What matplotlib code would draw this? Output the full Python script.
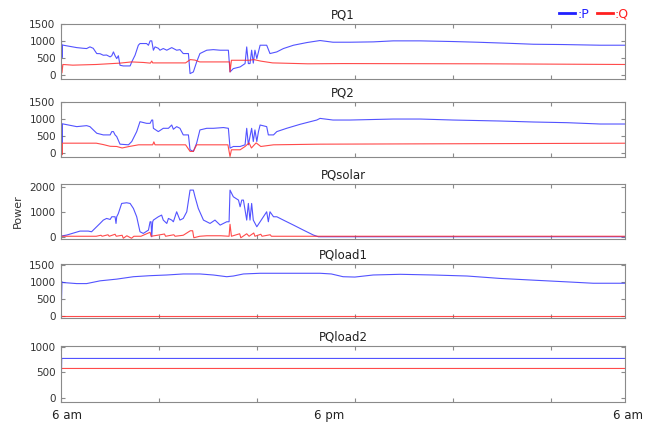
import numpy as np
import matplotlib
matplotlib.use('Agg')
import matplotlib.pyplot as plt
import matplotlib.transforms as mtransforms
from matplotlib.lines import Line2D

# time axis in hours after 6 am
pq1_p_hours = [0.0, 0.02, 0.04, 0.06, 0.1, 0.67, 0.95, 1.09, 1.23, 1.37, 1.52, 1.66, 1.8, 1.94, 2.09, 2.16,
               2.23, 2.3, 2.37, 2.44, 2.51, 2.65, 2.94, 3.01, 3.15, 3.29, 3.36, 3.64, 3.72, 3.79, 3.86, 3.93,
               4.0, 4.14, 4.21, 4.35, 4.5, 4.71, 4.92, 5.06, 5.2, 5.42, 5.49, 5.63, 5.77, 5.91, 6.2, 6.48,
               6.77, 7.05, 7.12, 7.19, 7.33, 7.62, 7.83, 7.9, 7.97, 8.04, 8.11, 8.18, 8.25, 8.33, 8.47, 8.75,
               8.89, 9.18, 9.46, 9.89, 10.46, 11.02, 11.57, 12.3, 13.28, 14.13, 15.28, 16.68, 17.7, 18.98,
               20.09, 21.36, 22.94, 24.0]
pq1_p = [0, 1000, 500, 880, 871, 800, 780, 772, 822, 780, 624, 620, 574, 580, 525, 560,
         673, 560, 475, 560, 277, 257, 257, 376, 574, 871, 921, 921, 870, 1000, 1000, 723,
         822, 780, 723, 773, 723, 800, 723, 740, 624, 624, 30, 79, 376, 624, 723, 740,
         723, 723, 723, 79, 178, 228, 327, 820, 327, 327, 723, 340, 723, 475, 871, 871,
         624, 673, 772, 871, 950, 1010, 960, 960, 970, 1000, 1000, 980, 960, 930,
         900, 891, 871, 871]
pq1_q_hours = [0.0, 0.02, 0.04, 0.08, 0.5, 1.5, 2.5, 3.0, 3.5, 3.8, 3.86, 3.9, 4.2, 5.3, 5.5, 5.7, 5.9,
               7.17, 7.19, 7.25, 8.0, 8.2, 8.5, 9.0, 10.5, 12.0, 18.0, 24.0]
pq1_q = [0, 300, 50, 300, 280, 300, 340, 376, 360, 340, 400, 347, 347, 347, 445, 430, 376,
         376, 79, 425, 425, 445, 400, 347, 320, 327, 320, 300]

pq2_p_hours = [0.0, 0.02, 0.04, 0.06, 0.1, 0.67, 1.09, 1.23, 1.52, 1.8, 2.09, 2.16, 2.23, 2.3, 2.37, 2.51,
               2.87, 3.01, 3.22, 3.36, 3.64, 3.79, 3.86, 3.9, 3.93, 4.14, 4.35, 4.57, 4.71, 4.78, 4.92,
               5.06, 5.2, 5.42, 5.49, 5.63, 5.77, 5.91, 6.2, 6.48, 6.91, 7.12, 7.19, 7.33, 7.62, 7.83,
               7.9, 7.97, 8.11, 8.18, 8.25, 8.33, 8.4, 8.47, 8.75, 8.82, 9.04, 9.18, 9.6, 10.17, 10.88,
               11.02, 11.57, 12.3, 14.13, 15.28, 16.68, 18.68, 20.09, 21.53, 22.94, 24.0]
pq2_p = [0, 900, 300, 860, 854, 777, 806, 777, 583, 534, 534, 631, 631, 534, 485, 262,
         243, 340, 631, 922, 874, 874, 971, 971, 728, 631, 728, 728, 825, 700, 777,
         728, 534, 534, 97, 49, 291, 680, 728, 728, 750, 728, 146, 194, 194, 243,
         728, 243, 728, 340, 680, 340, 631, 825, 777, 534, 534, 631, 728, 845, 971,
         1019, 971, 971, 1000, 1000, 971, 942, 913, 893, 854, 854]
pq2_q_hours = [0.0, 0.02, 0.04, 0.06, 1.5, 1.8, 2.09, 2.37, 2.6, 2.9, 3.3, 3.9, 3.95, 4.0, 5.3, 5.49,
               5.63, 5.77, 7.1, 7.19, 7.25, 7.62, 7.83, 8.0, 8.1, 8.3, 8.5, 9.04, 11.0, 24.0]
pq2_q = [0, 291, -50, 291, 291, 250, 200, 194, 150, 194, 243, 243, 330, 243, 243, 49,
         49, 243, 243, -100, 97, 97, 194, 300, 150, 300, 194, 243, 262, 290]

solar_p_hours = [0.0, 0.24, 0.81, 1.16, 1.3, 1.66, 1.8, 1.94, 2.09, 2.16, 2.3, 2.34, 2.37, 2.44, 2.58, 2.79,
                 2.94, 3.08, 3.22, 3.36, 3.5, 3.72, 3.79, 3.83, 3.86, 3.9, 3.93, 4.14, 4.28, 4.35, 4.5,
                 4.57, 4.71, 4.78, 4.92, 5.06, 5.2, 5.35, 5.49, 5.63, 5.7, 5.84, 6.06, 6.34, 6.55, 6.77,
                 7.05, 7.15, 7.19, 7.33, 7.55, 7.62, 7.69, 7.76, 7.9, 7.97, 8.04, 8.11, 8.18, 8.33, 8.47,
                 8.75, 8.82, 8.89, 9.04, 9.18, 9.46, 9.89, 10.31, 10.74, 10.95, 24.0]
solar_p = [27, 67, 227, 227, 200, 533, 667, 733, 693, 800, 800, 533, 800, 933, 1333, 1360,
           1333, 1133, 800, 200, 133, 267, 600, 600, 0, 600, 667, 800, 867, 667, 533,
           733, 667, 600, 1000, 667, 733, 1000, 1867, 1867, 1600, 1133, 667, 533, 667, 467,
           600, 600, 1867, 1600, 1467, 1200, 1467, 1467, 667, 1333, 667, 1333, 667, 400, 600,
           1000, 600, 1000, 800, 800, 667, 467, 267, 67, 0, 0]
solar_q_hours = [0.0, 1.5, 1.7, 1.75, 2.0, 2.05, 2.3, 2.35, 2.6, 2.65, 2.8, 3.0, 3.1, 3.4, 3.79, 3.83,
                 4.1, 4.4, 4.45, 4.8, 4.85, 5.2, 5.5, 5.6, 5.65, 5.9, 6.2, 6.8, 7.15, 7.19, 7.25, 7.6,
                 7.65, 7.9, 8.0, 8.2, 8.25, 8.5, 8.55, 8.9, 8.95, 24.0]
solar_q = [20, 20, 60, 20, 80, 20, 100, 20, 60, -60, 40, -60, 20, 20, 180, 20,
           60, 110, 20, 80, 20, 60, 240, 240, -40, 20, 40, 40, 20, 500, 20, 120,
           -40, 120, 20, 150, 20, 100, 20, 80, 20, 20]

load1_p_hours = [0.0, 0.02, 0.04, 0.1, 0.67, 1.09, 1.66, 2.37, 3.08, 3.79, 4.5, 5.2, 5.91, 6.48, 7.05, 7.33,
                 7.76, 8.47, 11.02, 11.5, 12.0, 12.5, 13.28, 14.43, 15.83, 17.28, 18.68, 20.09, 21.53,
                 22.64, 24.0]
load1_p = [0, 450, 1000, 980, 950, 950, 1030, 1080, 1150, 1180, 1200, 1230, 1230, 1200, 1150, 1170,
           1230, 1250, 1250, 1230, 1150, 1140, 1200, 1220, 1200, 1170, 1100, 1050, 1000,
           960, 960]
load1_q_hours = [0.0, 24.0]
load1_q = [0, 0]

load2_p_hours = [0.0, 0.03, 24.0]
load2_p = [0, 776, 776]
load2_q_hours = [0.0, 0.02, 24.0]
load2_q = [0, 579, 579]

titles = ['PQ1', 'PQ2', 'PQsolar', 'PQload1', 'PQload2']
p_series = [(pq1_p_hours, pq1_p), (pq2_p_hours, pq2_p), (solar_p_hours, solar_p),
            (load1_p_hours, load1_p), (load2_p_hours, load2_p)]
q_series = [(pq1_q_hours, pq1_q), (pq2_q_hours, pq2_q), (solar_q_hours, solar_q),
            (load1_q_hours, load1_q), (load2_q_hours, load2_q)]
ylims = [(-130, 1500), (-115, 1500), (-90, 2110), (-50, 1520), (-80, 1020)]
yticks = [[0, 500, 1000, 1500], [0, 500, 1000, 1500], [0, 1000, 2000],
          [0, 500, 1000, 1500], [0, 500, 1000]]
bottoms = [0.8137, 0.6297, 0.4363, 0.2500, 0.0519]
heights = [0.1297, 0.1297, 0.1297, 0.1274, 0.1320]

blue = '#3535ff'
red = '#ff2b2b'
frame = '#8a8a8a'

fig = plt.figure(figsize=(6.56, 4.24), dpi=100)

for i, title in enumerate(titles):
    ax = fig.add_axes([0.093, bottoms[i], 0.860, heights[i]])
    ax.plot(p_series[i][0], p_series[i][1], color=blue, lw=0.8, alpha=0.85)
    ax.plot(q_series[i][0], q_series[i][1], color=red, lw=0.8, alpha=0.85)
    ax.set_xlim(0, 24)
    ax.set_ylim(*ylims[i])
    ax.set_yticks(yticks[i])
    ax.set_xticks(np.arange(0, 24, 25 / 6))
    ax.set_xticklabels([])
    ax.tick_params(direction='in', top=True, right=True, length=3, width=0.8, color=frame,
                   labelsize=7.5, labelcolor='#333333', pad=4)
    for s in ax.spines.values():
        s.set_color(frame)
        s.set_linewidth(0.8)
    ax.set_title(title, fontsize=8.5, pad=4, color='#222222')

    if i == len(titles) - 1:
        trans = mtransforms.blended_transform_factory(ax.transData, ax.transAxes)
        for h, lab in [(0.26, '6 am'), (11.4, '6 pm'), (24.13, '6 am')]:
            ax.text(h, -0.25, lab, transform=trans, ha='center', va='center',
                    fontsize=8.5, color='#222222')

fig.text(0.027, 0.502, 'Power', rotation=90, ha='center', va='center', fontsize=8, color='#333333')

handles = [Line2D([], [], color='#2020ff', lw=2), Line2D([], [], color='#ff2020', lw=2)]
fig.legend(handles=handles, labels=[':P', ':Q'], loc='upper right', bbox_to_anchor=(0.97, 1.0),
           ncol=2, frameon=False, fontsize=9, handlelength=1.3, handletextpad=0.15,
           columnspacing=0.6, labelcolor='linecolor', borderaxespad=0.2)

fig.savefig('out.png', dpi=100)
plt.close()
